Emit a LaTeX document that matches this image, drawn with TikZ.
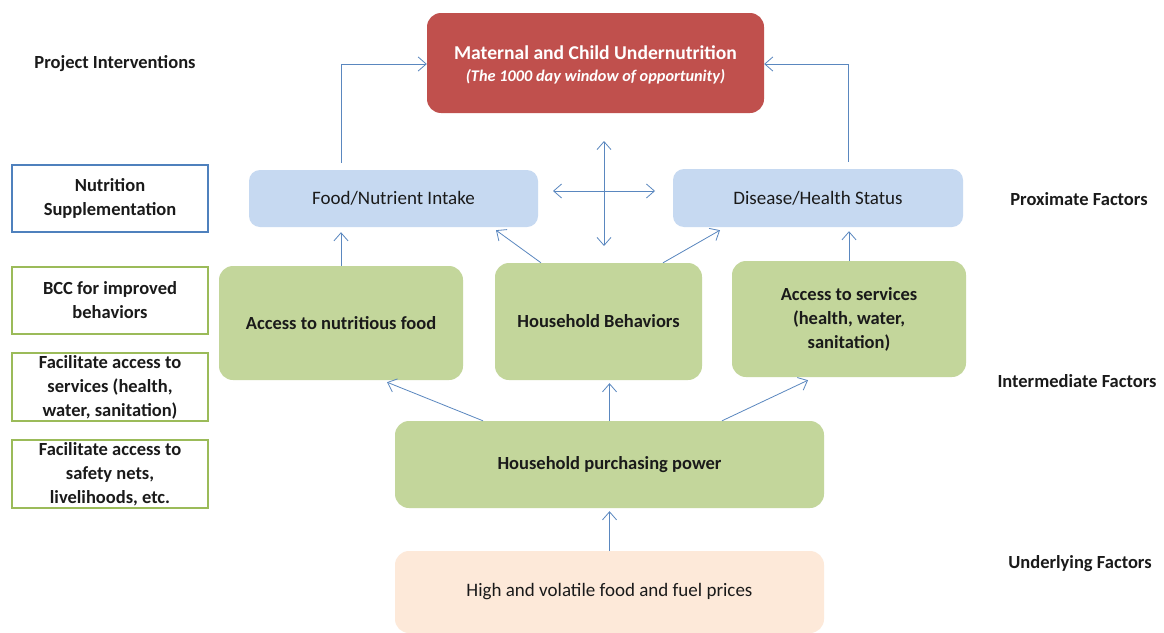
\documentclass[tikz,border=0pt]{standalone}
\usepackage{fontspec}
\setmainfont{Carlito}
\usetikzlibrary{arrows.meta,calc}
\definecolor{cred}{HTML}{C0504D}
\definecolor{cblue}{HTML}{C6D9F1}
\definecolor{cgreen}{HTML}{C3D69B}
\definecolor{cpeach}{HTML}{FDE9D9}
\definecolor{cline}{HTML}{5A87BF}
\definecolor{cbord}{HTML}{4F81BD}
\definecolor{cgbord}{HTML}{9BBB59}
\definecolor{ctext}{HTML}{1A1A1A}
\tikzset{
  box/.style={rounded corners=11pt, inner sep=2pt, align=center, text=ctext, font=\fontsize{19}{24}\selectfont},
  gbox/.style={box, fill=cgreen, rounded corners=14pt, font=\bfseries\fontsize{18.5}{24}\selectfont},
  lbox/.style={draw, line width=1.5pt, minimum width=196pt, minimum height=67pt, align=center, text=ctext, font=\bfseries\fontsize{18.5}{24}\selectfont, inner sep=0pt},
  side/.style={font=\bfseries\fontsize{18.5}{22}\selectfont, text=ctext},
  arr/.style={draw=cline, line width=0.8pt, -{Straight Barb[length=8pt,width=14pt]}},
  darr/.style={draw=cline, line width=0.8pt, {Straight Barb[length=8pt,width=14pt]}-{Straight Barb[length=8pt,width=14pt]}}
}
\begin{document}
\begin{tikzpicture}[x=1pt,y=-1pt]
\useasboundingbox[fill=white] (0,0) rectangle (1164,632);
% main boxes
\node[box, fill=cred, rounded corners=14pt, minimum width=337pt, minimum height=100pt] (red) at (595.5,63) {};
\node[align=center, text=white, inner sep=0pt, font=\bfseries\fontsize{16.3}{22}\selectfont] (redt) at ([yshift=-1.5pt]red.center)
  {{\fontsize{19.6}{22}\selectfont Maternal and Child Undernutrition}\\{\itshape (The 1000 day window of opportunity)}};
\node[box, fill=cblue, minimum width=289pt, minimum height=57pt] (food) at (393.5,198.5) {Food/Nutrient Intake};
\node[box, fill=cblue, minimum width=290pt, minimum height=58pt] (dis) at (818,198) {Disease/Health Status};
\node[gbox, minimum width=244pt, minimum height=114pt] (anf) at (341,323) {Access to nutritious food};
\node[gbox, minimum width=207pt, minimum height=117pt] (hb) at (598.5,321.5) {Household Behaviors};
\node[gbox, minimum width=234pt, minimum height=116pt] (as) at (849,319) {Access to services\\(health, water,\\sanitation)};
\node[gbox, minimum width=429pt, minimum height=87pt] (hpp) at (609.5,464.5) {Household purchasing power};
\node[box, fill=cpeach, rounded corners=14pt, minimum width=429pt, minimum height=82pt] (hvf) at (609.5,592) {High and volatile food and fuel prices};
% left intervention boxes
\node[lbox, draw=cbord] (ns) at (110,198.5) {Nutrition\\Supplementation};
\node[lbox, draw=cgbord] (bcc) at (110,300.5) {BCC for improved\\behaviors};
\node[lbox, draw=cgbord, minimum height=68pt] (fs) at (110,387) {Facilitate access to\\services (health,\\water, sanitation)};
\node[lbox, draw=cgbord, minimum height=68pt] (fsn) at (110,474) {Facilitate access to\\safety nets,\\livelihoods, etc.};
% side labels
\node[side] (pi) at (115,64) {Project Interventions};
\node[side] (pf) at (1079,199) {Proximate Factors};
\node[side] (imf) at (1077,381) {Intermediate Factors};
\node[side] (uf) at (1080,564) {Underlying Factors};
% connectors
\draw[arr] ([xshift=-52.5pt,yshift=7pt]food.north) |- ([yshift=-1pt]red.west);
\draw[arr] ([xshift=30pt,yshift=7pt]dis.north) |- ([yshift=-1pt]red.east);
\coordinate (vt) at (604,141);
\coordinate (vb) at (604,246);
\coordinate (hl) at (553,191);
\coordinate (hr) at (655,191);
\draw[darr] (vt) -- (vb);
\draw[darr] (hl) -- (hr);
\draw[arr] (anf.north) -- ([xshift=-52.5pt,yshift=-5pt]food.south);
\draw[arr] ([xshift=-57.5pt]hb.north) -- ([xshift=102.5pt,yshift=-3pt]food.south);
\draw[arr] ([xshift=64.5pt]hb.north) -- ([xshift=-98pt,yshift=-3pt]dis.south);
\draw[arr] (as.north) -- ([xshift=31pt,yshift=-4pt]dis.south);
\draw[arr] ([xshift=-126.5pt]hpp.north) -- ([xshift=46pt,yshift=-2pt]anf.south);
\draw[arr] (hpp.north) -- ([xshift=11pt,yshift=-3pt]hb.south);
\draw[arr] ([xshift=112.5pt]hpp.north) -- ([xshift=-41pt,yshift=-3pt]as.south);
\draw[arr] (hvf.north) -- ([yshift=-3pt]hpp.south);
\end{tikzpicture}
\end{document}
